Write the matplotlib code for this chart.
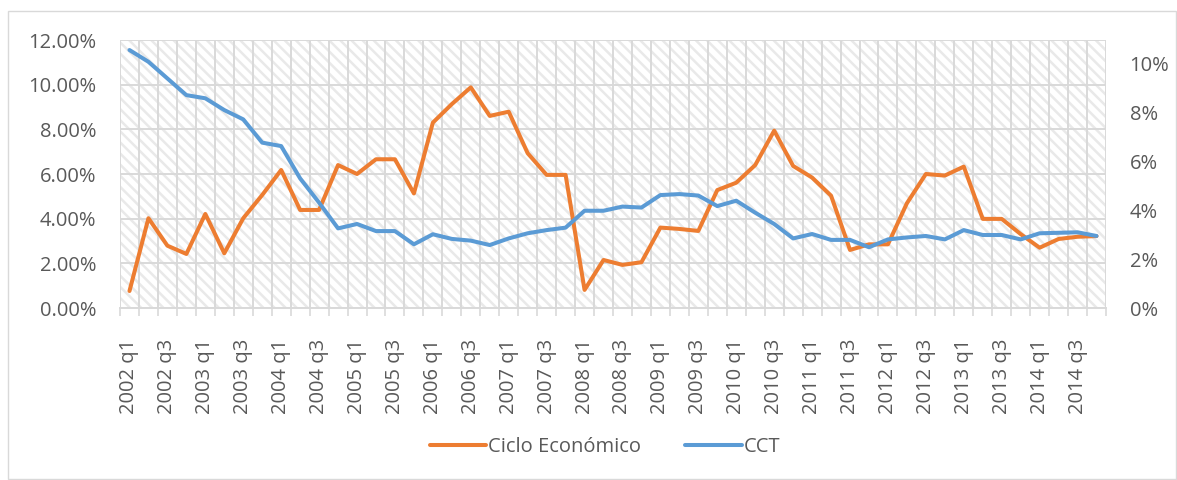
import numpy as np
import matplotlib
matplotlib.use("Agg")
import matplotlib.pyplot as plt
from matplotlib.patches import Rectangle
from matplotlib.ticker import FuncFormatter, FixedLocator

plt.rcParams['font.family'] = ['Open Sans', 'DejaVu Sans']
plt.rcParams['hatch.linewidth'] = 1.8

# quarters 2002 q1 .. 2014 q4
quarters = [f"{y} q{q}" for y in range(2002, 2015) for q in range(1, 5)]

# Ciclo Económico (left axis, %)
ciclo = [0.76, 4.02, 2.79, 2.42, 4.21, 2.45, 4.02, 5.06, 6.18, 4.39,
         4.39, 6.40, 6.00, 6.66, 6.66, 5.13, 8.30, 9.13, 9.88, 8.60,
         8.79, 6.93, 5.96, 5.96, 0.81, 2.15, 1.93, 2.05, 3.60, 3.54,
         3.45, 5.28, 5.61, 6.40, 7.94, 6.36, 5.84, 5.03, 2.60, 2.85,
         2.85, 4.69, 6.00, 5.93, 6.33, 3.99, 3.99, 3.31, 2.70, 3.09,
         3.19, 3.22]

# CCT (right axis, %)
cct = [10.53, 10.05, 9.37, 8.69, 8.56, 8.08, 7.70, 6.75, 6.61, 5.29,
       4.30, 3.25, 3.43, 3.14, 3.14, 2.60, 3.01, 2.82, 2.75, 2.57,
       2.84, 3.05, 3.18, 3.28, 3.97, 3.97, 4.14, 4.10, 4.61, 4.65,
       4.59, 4.16, 4.38, 3.89, 3.43, 2.84, 3.02, 2.78, 2.78, 2.48,
       2.80, 2.88, 2.94, 2.80, 3.18, 2.98, 2.98, 2.80, 3.05, 3.07,
       3.09, 2.94]

orange = '#ED7D31'
blue = '#5B9BD5'
txt = '#595959'
grid = '#D9D9D9'

x = np.arange(len(quarters))
ciclo = np.array(ciclo) / 100
cct = np.array(cct) / 100

fig = plt.figure(figsize=(11.77, 4.80), dpi=100)
fig.patches.append(Rectangle((8 / 1177, 1 / 480), 1168 / 1177, 468 / 480,
                             transform=fig.transFigure, fill=False,
                             edgecolor=grid, lw=1))
ax = fig.add_axes([120 / 1177, 1 - 308 / 480, 986 / 1177, 268 / 480])

bg = Rectangle((0, 0), 1, 1, transform=ax.transAxes, facecolor='white',
               edgecolor='#e9e9e9', hatch='\\\\\\', lw=0, zorder=0.1)
ax.add_patch(bg)

l1, = ax.plot(x, ciclo, color=orange, lw=2.9, label='Ciclo Económico',
              solid_capstyle='round', zorder=3)
ax.set_ylim(0, 0.12)
ax.set_xlim(-0.5, len(x) - 0.5)
ax.set_yticks(np.arange(0, 0.121, 0.02))
ax.yaxis.set_major_formatter(FuncFormatter(lambda v, p: f"{v * 100:.2f}%"))
ax.set_xticks(x[::2])
ax.set_xticklabels(quarters[::2], rotation=90)
ax.xaxis.set_minor_locator(FixedLocator(np.arange(-0.5, len(x), 1)))
ax.tick_params(axis='x', which='major', length=0, pad=22, labelsize=14.5, labelcolor=txt)
ax.tick_params(axis='x', which='minor', length=6, color=grid, width=1.2)
ax.tick_params(axis='y', length=0, pad=17, labelsize=14.5, labelcolor=txt)
ax.grid(axis='y', which='major', color=grid, lw=1.4)
ax.grid(axis='x', which='minor', color=grid, lw=1.4)
ax.set_axisbelow(True)
for s in ['left', 'right', 'top']:
    ax.spines[s].set_visible(False)
ax.spines['bottom'].set_color(grid)
ax.spines['bottom'].set_linewidth(1.4)

ax2 = ax.twinx()
l2, = ax2.plot(x, cct, color=blue, lw=2.9, label='CCT', solid_capstyle='round')
ax2.set_ylim(0, 0.1094)
ax2.set_yticks(np.arange(0, 0.101, 0.02))
ax2.yaxis.set_major_formatter(FuncFormatter(lambda v, p: f"{v * 100:.0f}%"))
ax2.tick_params(axis='y', length=0, pad=17, labelsize=14.5, labelcolor=txt)
for s in ax2.spines.values():
    s.set_visible(False)

leg = fig.legend(handles=[l1, l2], loc='center', bbox_to_anchor=(605 / 1177, 1 - 447 / 480),
                 ncol=2, frameon=False, fontsize=14.5, handlelength=2.8,
                 handletextpad=0.1, columnspacing=2.2)
for t in leg.get_texts():
    t.set_color(txt)

fig.savefig('out.png', dpi=100)
